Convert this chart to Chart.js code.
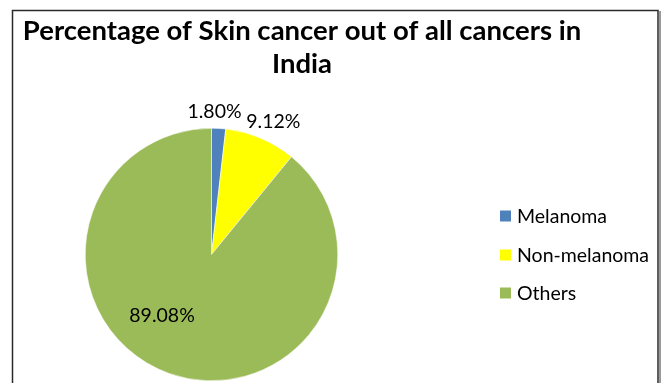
<!DOCTYPE html>
<html>
<head>
<meta charset="utf-8">
<title>Skin cancer share - India</title>
<script src="https://cdn.jsdelivr.net/npm/chart.js@4.4.1/dist/chart.umd.min.js"></script>
<style>
  html, body { margin: 0; padding: 0; background: #fff; }
  #wrap { position: relative; width: 664px; height: 383px; }
</style>
</head>
<body>
<div id="wrap"><canvas id="pie" width="664" height="383"></canvas></div>
<script>
'use strict';

/* ── Data ─────────────────────────────────────────────────────────────── */
const categories = ['Melanoma', 'Non-melanoma', 'Others'];
const shares     = [1.80, 9.12, 89.08];
const colours    = ['#4F81BD', '#FFFF00', '#9BBB59'];
const titleLines = ['Percentage of Skin cancer out of all cancers in', 'India'];

const FONT = 'Lato, "Open Sans", sans-serif';

/* ── Frame around the chart ───────────────────────────────────────────── */
const framePlugin = {
  id: 'frame',
  beforeDraw(chart) {
    const ctx = chart.ctx;
    ctx.save();
    ctx.fillStyle = '#fff';
    ctx.fillRect(0, 0, chart.width, chart.height);
    // soft shadow on the right edge
    ctx.strokeStyle = '#9a9a9a';
    ctx.lineWidth = 2;
    ctx.beginPath();
    ctx.moveTo(660, 11);
    ctx.lineTo(660, chart.height + 2);
    ctx.stroke();
    ctx.strokeStyle = '#2a2a2a';
    ctx.lineWidth = 1.5;
    ctx.strokeRect(12.5, 10.5, 645.5, chart.height + 10);
    ctx.restore();
  }
};

/* ── Title, legend and value labels drawn on top ──────────────────────── */
const textPlugin = {
  id: 'sideText',
  afterDraw(chart) {
    const ctx = chart.ctx;
    ctx.save();
    ctx.fillStyle = '#000';
    ctx.textAlign = 'center';
    ctx.textBaseline = 'middle';
    ctx.font = 'bold 27.5px ' + FONT;
    ctx.fillText(titleLines[0], 302, 31);
    ctx.fillText(titleLines[1], 302, 64);

    // legend
    ctx.font = '19.5px ' + FONT;
    ctx.textAlign = 'left';
    const legendY = [216, 255, 293];
    categories.forEach((name, i) => {
      ctx.fillStyle = colours[i];
      ctx.fillRect(500, legendY[i] - 5.5, 11, 11);
      ctx.fillStyle = '#000';
      ctx.fillText(name, 517, legendY[i] + 1);
    });

    // value labels, placed from the arcs' own geometry plus a small nudge
    ctx.font = '19.5px ' + FONT;
    ctx.textAlign = 'center';
    const nudge = [[-5, -0.5], [6.5, -2], [-24, -10.5]];
    const meta = chart.getDatasetMeta(0);
    meta.data.forEach((arc, i) => {
      const mid = (arc.startAngle + arc.endAngle) / 2;
      const r = i === 2 ? arc.outerRadius * 0.6 : arc.outerRadius + 16;
      const x = arc.x + Math.cos(mid) * r + nudge[i][0];
      const y = arc.y + Math.sin(mid) * r + nudge[i][1];
      ctx.fillText(shares[i].toFixed(2) + '%', x, y);
    });
    ctx.restore();
  }
};

new Chart(document.getElementById('pie'), {
  type: 'pie',
  data: {
    labels: categories,
    datasets: [{
      data: shares,
      backgroundColor: colours,
      borderColor: '#ffffff',
      borderWidth: 0.5
    }]
  },
  options: {
    responsive: false,
    animation: false,
    layout: { padding: { left: 85, top: 128, right: 326, bottom: 2 } },
    plugins: {
      legend: { display: false },
      title: { display: false },
      tooltip: { enabled: false }
    }
  },
  plugins: [framePlugin, textPlugin]
});
</script>
</body>
</html>
